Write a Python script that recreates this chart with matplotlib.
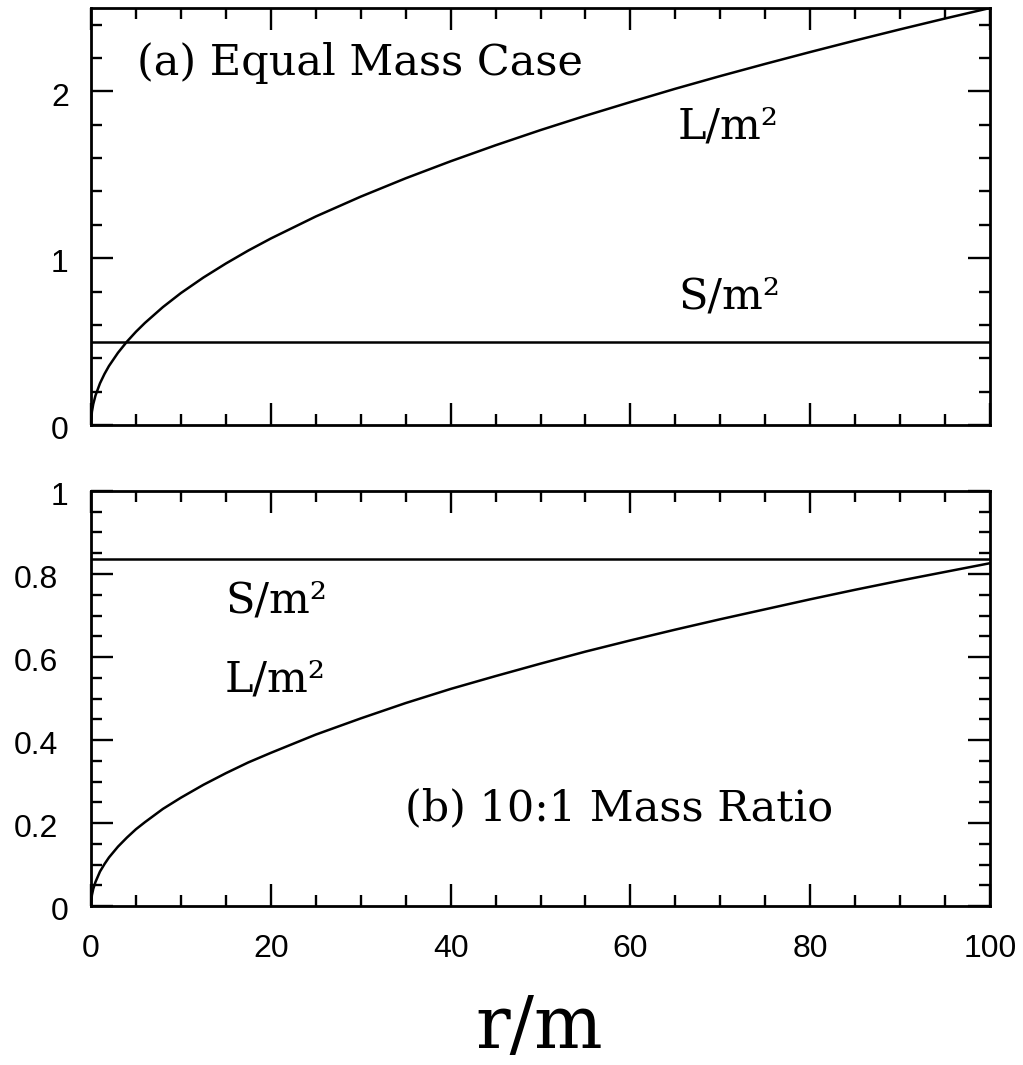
import matplotlib
matplotlib.use("Agg")
import matplotlib.pyplot as plt
from matplotlib.ticker import MultipleLocator
from matplotlib.transforms import offset_copy

# Data
r = [0, 0.1, 0.25, 0.5, 1, 1.5, 2, 3, 4, 5, 6, 8, 10, 12.5, 15, 17.5, 20, 25, 30,
     35, 40, 45, 50, 55, 60, 65, 70, 75, 80, 85, 90, 95, 100]
L_equal = [0, 0.079, 0.125, 0.177, 0.25, 0.306, 0.354, 0.433, 0.5, 0.559, 0.612,
           0.707, 0.791, 0.884, 0.968, 1.046, 1.118, 1.25, 1.369, 1.479, 1.581,
           1.677, 1.768, 1.854, 1.936, 2.016, 2.092, 2.165, 2.236, 2.305, 2.372,
           2.437, 2.5]
L_ratio = [0, 0.026, 0.041, 0.058, 0.083, 0.101, 0.117, 0.143, 0.165, 0.185, 0.202,
           0.234, 0.261, 0.292, 0.320, 0.346, 0.369, 0.413, 0.452, 0.489, 0.523,
           0.554, 0.584, 0.613, 0.640, 0.666, 0.691, 0.715, 0.739, 0.762, 0.784,
           0.805, 0.826]
S_equal = 0.5
S_ratio = 0.836

xticks = [0, 20, 40, 60, 80, 100]
yticks_top = [0, 1, 2]
ylabels_top = ["0", "1", "2"]
yticks_bot = [0, 0.2, 0.4, 0.6, 0.8, 1]
ylabels_bot = ["0", "0.2", "0.4", "0.6", "0.8", "1"]

W, H = 1023, 1065
fig = plt.figure(figsize=(W / 100, H / 100), dpi=100)

def frac(x0, y0, x1, y1):
    return [x0 / W, 1 - y1 / H, (x1 - x0) / W, (y1 - y0) / H]

ax1 = fig.add_axes(frac(91, 8, 990, 425))
ax2 = fig.add_axes(frac(91, 491, 990, 906))

tickfont = "Liberation Sans"
serif = "DejaVu Serif"
TS = 23      # tick label size
AS = 31      # annotation size
LW = 1.8

for ax in (ax1, ax2):
    for s in ax.spines.values():
        s.set_linewidth(2.0)
    ax.set_xlim(0, 100)
    ax.xaxis.set_minor_locator(MultipleLocator(5))
    ax.tick_params(which="both", direction="in", top=True, right=True,
                   width=1.7, labelsize=TS, pad=16)
    ax.tick_params(which="major", length=16)
    ax.tick_params(which="minor", length=8)
    ax.tick_params(axis="x", pad=20)

def ylabels(ax, ticks, labels):
    ax.set_yticks(ticks)
    ax.set_yticklabels([])
    for v, lab in zip(ticks, labels):
        off = -16 if "." not in lab else -24
        tr = offset_copy(ax.get_yaxis_transform(), fig=fig, x=off, y=-4.5,
                         units="points")
        ax.text(0, v, lab, transform=tr, ha="right", va="center",
                fontsize=TS, family=tickfont)

# Top panel
ax1.plot(r, L_equal, color="black", lw=LW)
ax1.axhline(S_equal, color="black", lw=LW)
ax1.set_ylim(0, 2.5)
ylabels(ax1, yticks_top, ylabels_top)
ax1.yaxis.set_minor_locator(MultipleLocator(0.2))
ax1.set_xticks(xticks)
ax1.set_xticklabels([])
ax1.text(0.051, 0.868, "(a) Equal Mass Case", fontsize=AS, family=serif,
         va="center", ha="left", transform=ax1.transAxes)
ax1.text(0.653, 0.715, "L/m²", fontsize=AS, family=serif, va="center",
         ha="left", transform=ax1.transAxes)
ax1.text(0.653, 0.307, "S/m²", fontsize=AS, family=serif, va="center",
         ha="left", transform=ax1.transAxes)

# Bottom panel
ax2.plot(r, L_ratio, color="black", lw=LW)
ax2.axhline(S_ratio, color="black", lw=LW)
ax2.set_ylim(0, 1)
ylabels(ax2, yticks_bot, ylabels_bot)
ax2.yaxis.set_minor_locator(MultipleLocator(0.05))
ax2.set_xticks(xticks)
ax2.set_xticklabels([str(v) for v in xticks], family=tickfont)

ax2.text(0.149, 0.737, "S/m²", fontsize=AS, family=serif, va="center",
         ha="left", transform=ax2.transAxes)
ax2.text(0.149, 0.545, "L/m²", fontsize=AS, family=serif, va="center",
         ha="left", transform=ax2.transAxes)
ax2.text(0.349, 0.236, "(b) 10:1 Mass Ratio", fontsize=AS, family=serif,
         va="center", ha="left", transform=ax2.transAxes)

fig.text(539 / W, 1 - 1028 / H, "r/m", fontsize=52, family=serif,
         ha="center", va="center")

fig.savefig("out.png", dpi=100)
